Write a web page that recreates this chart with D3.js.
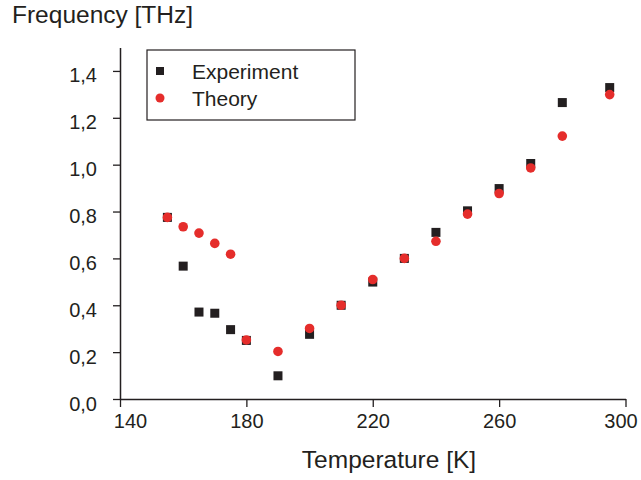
<!DOCTYPE html>
<html>
<head>
<meta charset="utf-8">
<script src="https://cdn.jsdelivr.net/npm/d3@7"></script>
<style>
  body { margin: 0; background: #fff; }
  text { font-family: "Liberation Sans", Arial, sans-serif; fill: #231f20; }
</style>
</head>
<body>
<script>
const w = 641;
const h = 480;

// data
const expTemps = [155, 160, 165, 170, 175, 180, 190, 200, 210, 220, 230, 240, 250, 260, 270, 280, 295];
const expFreq = [0.775, 0.567, 0.371, 0.366, 0.296, 0.25, 0.099, 0.276, 0.40, 0.499, 0.60, 0.711, 0.803, 0.898, 1.005, 1.265, 1.329];
const theoTemps = [155, 160, 165, 170, 175, 180, 190, 200, 210, 220, 230, 240, 250, 260, 270, 280, 295];
const theoFreq = [0.775, 0.735, 0.708, 0.664, 0.618, 0.252, 0.203, 0.301, 0.40, 0.51, 0.60, 0.673, 0.789, 0.877, 0.986, 1.122, 1.299];
const xTickLabels = [140, 180, 220, 260, 300];
const yTickLabels = [0, 0.2, 0.4, 0.6, 0.8, 1.0, 1.2, 1.4];
const seriesNames = ['Experiment', 'Theory'];

const ink = '#231f20';
const red = '#e52d2b';

const svg = d3.select('body').append('svg')
  .attr('width', w)
  .attr('height', h);

const x = d3.scaleLinear().domain([140, 300]).range([120, 625.5]);
const y = d3.scaleLinear().domain([0, 1.5]).range([399, 47.5]);

const fmt = (d) => d3.format('.1f')(d).replace('.', ',');

// x axis
const xAxis = svg.append('g')
  .attr('transform', `translate(0, ${y(0)})`);
xAxis.call(d3.axisBottom(x).tickValues(d3.range(140, 301, 10)).tickSize(6).tickFormat(''));
xAxis.call(d3.axisBottom(x).tickValues(xTickLabels).tickSize(8).tickSizeOuter(0).tickPadding(7)
  .tickFormat(d3.format('d')));
xAxis.selectAll('.domain').attr('stroke', ink).attr('stroke-width', 1.5);
xAxis.selectAll('line').attr('stroke', ink).attr('stroke-width', 1.3);
xAxis.selectAll('text')
  .style('font-size', '20px')
  .attr('fill', ink)
  .attr('dx', (d) => d === 140 ? 10 : (d === 300 ? -5 : 0));

// y axis
const yAxis = svg.append('g')
  .attr('transform', `translate(${x(140)}, 0)`);
yAxis.call(d3.axisLeft(y).tickValues(d3.range(0, 1.51, 0.1)).tickSize(4).tickSizeOuter(0).tickFormat(''));
yAxis.call(d3.axisLeft(y).tickValues(yTickLabels).tickSize(7).tickSizeOuter(0).tickPadding(16)
  .tickFormat(fmt));
yAxis.selectAll('.domain').attr('stroke', ink).attr('stroke-width', 1.5);
yAxis.selectAll('line').attr('stroke', ink).attr('stroke-width', 1.3);
yAxis.selectAll('text').style('font-size', '20px').attr('fill', ink).attr('dy', '0.55em');

// titles
svg.append('text')
  .attr('x', 12)
  .attr('y', 23)
  .style('font-size', '24.5px')
  .text('Frequency [THz]');

svg.append('text')
  .attr('x', 389)
  .attr('y', 468)
  .attr('text-anchor', 'middle')
  .style('font-size', '24.5px')
  .text('Temperature [K]');

// points
const sq = 9;
svg.append('g')
  .selectAll('rect')
  .data(expTemps.map((t, i) => [t, expFreq[i]]))
  .enter()
  .append('rect')
  .attr('x', (d) => x(d[0]) - sq / 2)
  .attr('y', (d) => y(d[1]) - sq / 2)
  .attr('width', sq)
  .attr('height', sq)
  .attr('fill', ink);

svg.append('g')
  .selectAll('circle')
  .data(theoTemps.map((t, i) => [t, theoFreq[i]]))
  .enter()
  .append('circle')
  .attr('cx', (d) => x(d[0]))
  .attr('cy', (d) => y(d[1]))
  .attr('r', 4.8)
  .attr('fill', red);

// legend
const legend = svg.append('g');
legend.append('rect')
  .attr('x', 147)
  .attr('y', 50)
  .attr('width', 208)
  .attr('height', 70)
  .attr('fill', 'none')
  .attr('stroke', ink)
  .attr('stroke-width', 1.2);
legend.append('rect')
  .attr('x', 160 - 4)
  .attr('y', 71 - 4)
  .attr('width', 8)
  .attr('height', 8)
  .attr('fill', ink);
legend.append('circle')
  .attr('cx', 160)
  .attr('cy', 98)
  .attr('r', 4.5)
  .attr('fill', red);
legend.selectAll('text.lab')
  .data(seriesNames)
  .enter()
  .append('text')
  .attr('class', 'lab')
  .attr('x', 192)
  .attr('y', (d, i) => 79 + i * 27)
  .style('font-size', '21px')
  .text((d) => d);
</script>
</body>
</html>
